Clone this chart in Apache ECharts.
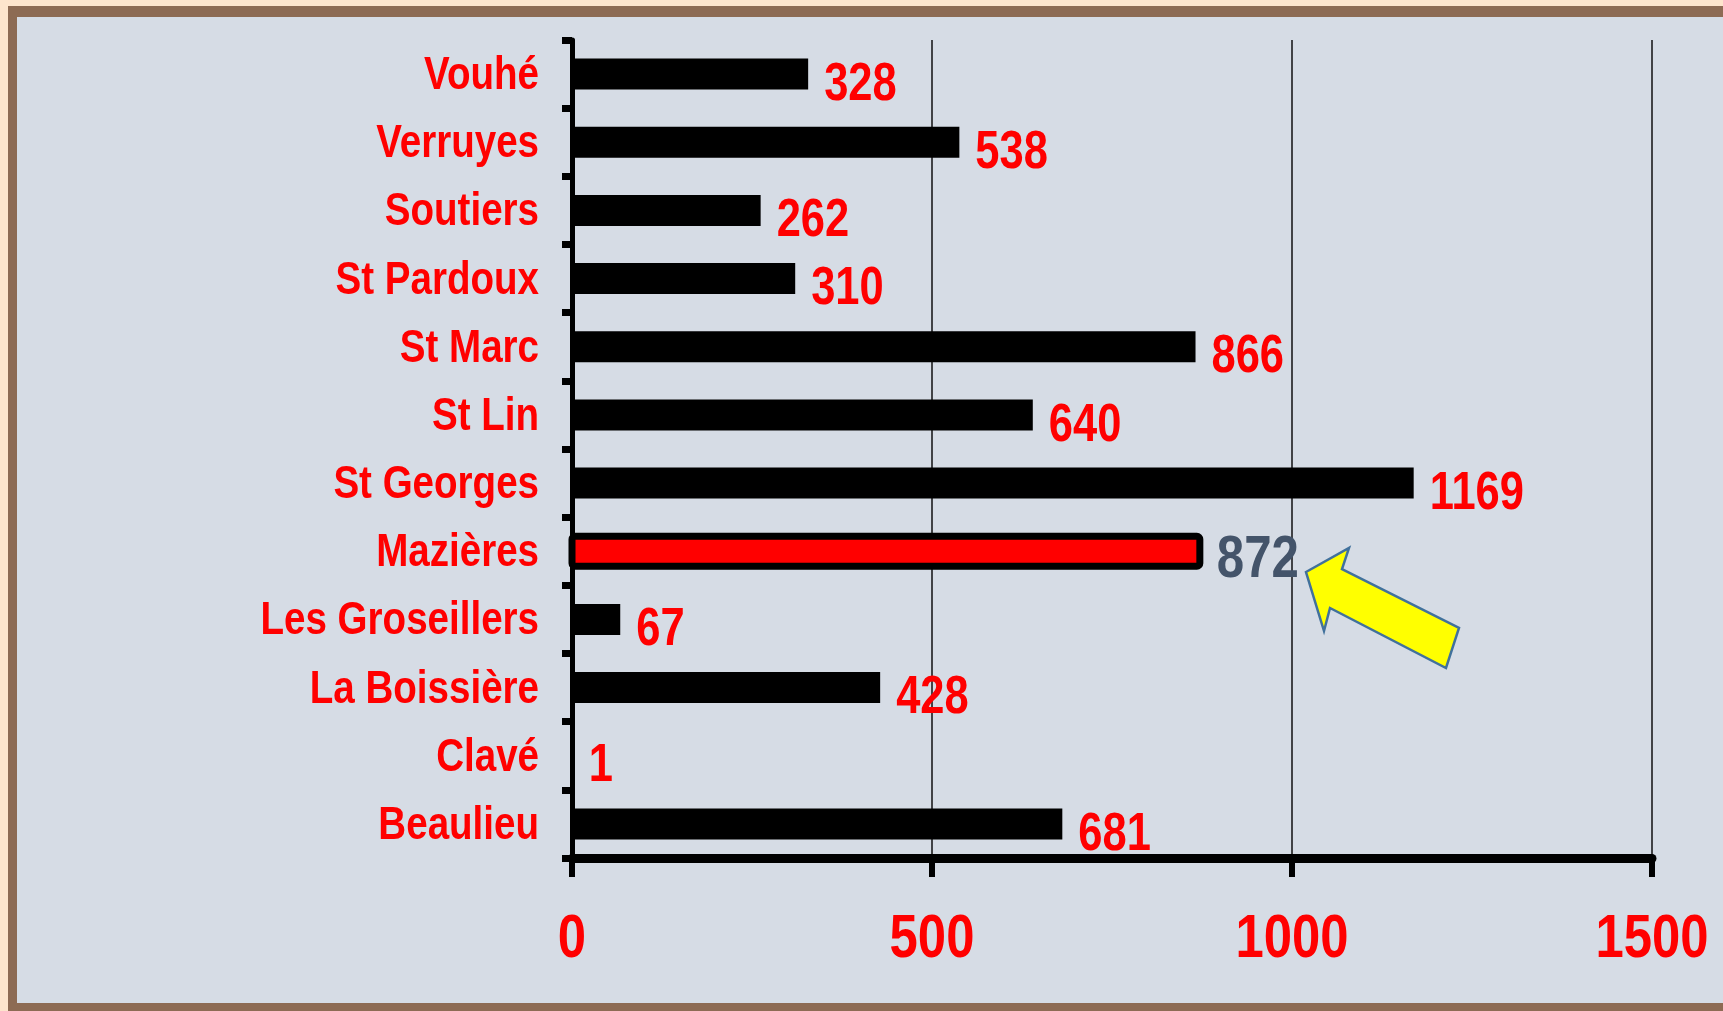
<!DOCTYPE html>
<html>
<head>
<meta charset="utf-8">
<title>Communes</title>
<script src="https://cdn.jsdelivr.net/npm/echarts@6/dist/echarts.min.js"></script>
<style>
  html, body { margin: 0; padding: 0; width: 1723px; height: 1011px; overflow: hidden; background: #fde5cd; }
  #frame { position: absolute; left: 8px; top: 6px; width: 1760px; height: 1040px; background: #8d6b54; }
  #inner { position: absolute; left: 17px; top: 17px; width: 1740px; height: 986px; background: #d6dce5; }
  #chart { position: absolute; left: 0; top: 0; width: 1723px; height: 1011px; }
</style>
</head>
<body>
<div id="frame"></div>
<div id="inner"></div>
<div id="chart"></div>
<script>
  // top to bottom, as in the picture
  const communes = [
    "Vouhé", "Verruyes", "Soutiers", "St Pardoux", "St Marc", "St Lin",
    "St Georges", "Mazières", "Les Groseillers", "La Boissière", "Clavé", "Beaulieu"
  ];
  const values = [328, 538, 262, 310, 866, 640, 1169, 872, 67, 428, 1, 681];
  const highlighted = "Mazières";
  const xTicks = [0, 500, 1000, 1500];

  // no Arial Narrow here: Liberation Sans squeezed horizontally instead
  const FAMILY = '"Liberation Sans", Arial, sans-serif';
  const NARROW = 0.82;
  const RED = "#ff0000";
  const SLATE = "#44546a";

  const chart = echarts.init(document.getElementById("chart"), null, { renderer: "canvas" });

  function narrowText(x, y, text, size, color, align) {
    return {
      type: "text",
      x: x,
      y: y,
      scaleX: NARROW,
      silent: true,
      style: {
        text: text,
        x: 0,
        y: 0,
        fill: color,
        font: "bold " + size + "px " + FAMILY,
        align: align,
        textAlign: align,
        verticalAlign: "middle",
        textVerticalAlign: "middle"
      }
    };
  }

  function renderBar(params, api) {
    const idx = api.value(1);
    const v = api.value(0);
    const p0 = api.coord([0, idx]);
    const p1 = api.coord([v, idx]);
    const c = p0[1];
    const hl = communes[idx] === highlighted;
    const children = [];
    if (hl) {
      children.push({
        type: "rect",
        shape: { x: p0[0], y: c - 15, width: p1[0] - p0[0], height: 30, r: 3 },
        style: { fill: RED, stroke: "#000", lineWidth: 7 }
      });
      children.push(narrowText(p1[0] + 17, c + 9, String(v), 60, SLATE, "left"));
    } else {
      children.push({
        type: "rect",
        shape: { x: p0[0], y: c - 15.5, width: Math.max(p1[0] - p0[0], 0.8), height: 31 },
        style: { fill: "#000" }
      });
      children.push(narrowText(p1[0] + 16, c + 11, String(v), 53, RED, "left"));
    }
    return { type: "group", children: children };
  }

  const option = {
    backgroundColor: "transparent",
    animation: false,
    grid: { left: 572, right: 71, top: 40, bottom: 153, containLabel: false, outerBoundsMode: "none" },
    xAxis: {
      type: "value",
      min: xTicks[0],
      max: xTicks[xTicks.length - 1],
      interval: xTicks[1] - xTicks[0],
      axisLine: { show: true, lineStyle: { color: "#000", width: 9 } },
      axisTick: { show: true, length: 19, lineStyle: { color: "#000", width: 6 } },
      splitLine: { show: true, lineStyle: { color: "#111", width: 1.5 } },
      axisLabel: { show: false }
    },
    yAxis: {
      type: "category",
      data: communes,
      inverse: true,
      axisLine: { show: true, lineStyle: { color: "#000", width: 5 } },
      axisTick: { show: true, length: 10, lineStyle: { color: "#000", width: 7 } },
      splitLine: { show: false },
      axisLabel: { show: false }
    },
    series: [{
      type: "custom",
      renderItem: renderBar,
      encode: { x: 0, y: 1 },
      data: values.map((v, i) => [v, i]),
      clip: false,
      z: 3
    }]
  };

  chart.setOption(option);

  // axis labels and the arrow, placed with the chart's own scales
  const labels = [];
  communes.forEach((name) => {
    const y = chart.convertToPixel({ yAxisIndex: 0 }, name);
    labels.push(narrowText(539, y + 2, name, 47, RED, "right"));
  });
  xTicks.forEach((t) => {
    const x = chart.convertToPixel({ xAxisIndex: 0 }, t);
    labels.push(narrowText(x, 940, String(t), 62, RED, "center"));
  });

  labels.push({
    type: "polygon",
    silent: true,
    shape: {
      points: [
        [1306, 572], [1349, 548], [1342, 569], [1459, 628],
        [1446, 668], [1330, 608], [1324, 631]
      ]
    },
    style: { fill: "#ffff00", stroke: "#41719c", lineWidth: 2.5 },
    z: 10
  });

  chart.setOption({ graphic: labels });
</script>
</body>
</html>
